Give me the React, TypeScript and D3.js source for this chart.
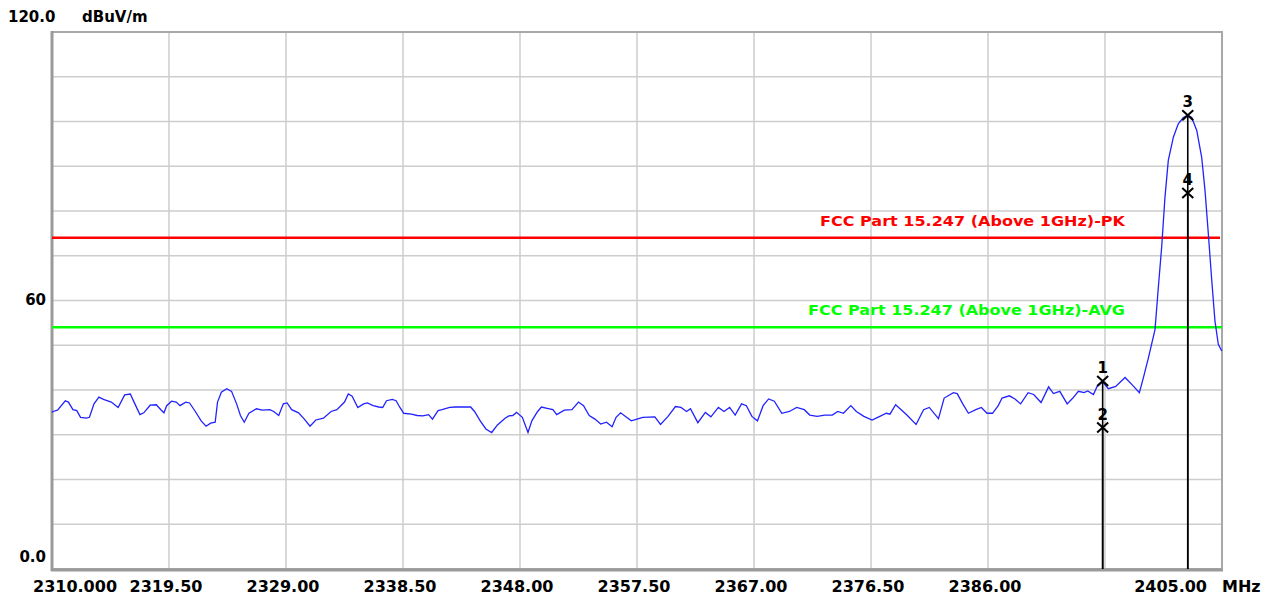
import React from 'react'
import * as d3 from 'd3'

// spectrum sweep (MHz, dBuV/m)
const noiseLow: [number, number][] = [
  [2310.0, 35.0], [2310.09, 35.2], [2310.45, 35.5], [2311.08, 37.6], [2311.33, 37.3], [2311.70, 35.6], [2312.01, 35.4],
  [2312.32, 33.9], [2312.79, 33.7], [2313.04, 33.9], [2313.41, 36.9], [2313.81, 38.4], [2314.18, 37.9],
  [2314.81, 37.3], [2315.37, 36.1], [2315.90, 38.9], [2316.36, 39.1], [2316.73, 36.9], [2317.14, 34.5],
  [2317.45, 34.9], [2317.97, 36.6], [2318.47, 36.7], [2318.84, 35.6], [2319.09, 34.9], [2319.31, 36.5],
  [2319.71, 37.5], [2320.09, 37.3], [2320.39, 36.5], [2320.86, 37.3], [2321.17, 37.1], [2321.64, 35.2],
  [2322.11, 33.1], [2322.51, 31.9], [2322.88, 32.6], [2323.25, 32.8], [2323.44, 37.3], [2323.75, 39.5],
  [2324.19, 40.3], [2324.58, 39.7], [2324.99, 36.9], [2325.30, 34.3], [2325.61, 32.8], [2325.99, 34.8],
  [2326.60, 35.8], [2327.07, 35.5], [2327.69, 35.6], [2328.00, 35.2], [2328.41, 34.3], [2328.78, 36.9],
  [2329.09, 37.1], [2329.46, 35.6], [2330.02, 34.9], [2330.49, 33.5], [2330.95, 31.9], [2331.42, 33.3],
  [2332.04, 33.7], [2332.66, 35.2], [2333.13, 35.6], [2333.75, 37.3], [2334.06, 39.1], [2334.37, 38.6],
  [2334.83, 36.1], [2335.30, 36.9], [2335.61, 37.1], [2336.07, 36.5], [2336.54, 36.2], [2336.85, 36.1],
  [2337.16, 37.6], [2337.63, 37.9], [2337.94, 37.6], [2338.25, 36.1], [2338.56, 34.8], [2339.18, 34.6],
  [2339.65, 34.3], [2340.11, 34.2], [2340.58, 34.5], [2340.89, 33.5], [2341.35, 35.4], [2341.67, 35.6],
  [2342.29, 36.1], [2342.76, 36.2], [2343.37, 36.2], [2343.99, 36.2], [2344.31, 35.2], [2344.77, 33.1],
  [2345.23, 31.3], [2345.70, 30.5], [2346.17, 32.2], [2346.79, 33.7], [2347.10, 34.2], [2347.41, 34.3],
  [2347.72, 35.0], [2348.19, 33.9], [2348.65, 30.5], [2348.96, 33.1], [2349.43, 35.2], [2349.74, 36.2],
  [2350.20, 35.9], [2350.67, 35.6], [2350.98, 34.5], [2351.60, 35.5], [2352.22, 35.6], [2352.75, 37.3],
  [2353.16, 36.5], [2353.62, 34.3], [2354.09, 33.5], [2354.55, 32.4], [2355.02, 32.8], [2355.48, 31.8],
  [2355.80, 33.9], [2356.17, 34.9], [2356.57, 34.1], [2357.04, 33.1], [2357.50, 33.5], [2357.97, 33.9],
]

const noiseHigh: [number, number][] = [
  [2358.95, 34.0], [2359.41, 32.3], [2360.02, 34.1], [2360.62, 36.3], [2361.07, 36.1], [2361.53, 35.2],
  [2361.84, 35.8], [2362.44, 32.7], [2363.05, 35.0], [2363.50, 34.0], [2364.11, 36.1], [2364.56, 35.2],
  [2365.02, 36.1], [2365.47, 34.4], [2365.99, 36.9], [2366.38, 36.5], [2366.83, 34.1], [2367.28, 33.1],
  [2367.74, 36.5], [2368.19, 38.0], [2368.65, 37.5], [2369.26, 34.8], [2369.87, 35.2], [2370.47, 36.1],
  [2371.08, 35.6], [2371.53, 34.4], [2372.13, 34.1], [2372.74, 34.4], [2373.35, 34.4], [2373.80, 35.2],
  [2374.26, 34.8], [2374.86, 36.5], [2375.31, 35.2], [2375.92, 34.1], [2376.59, 33.3], [2377.13, 34.0],
  [2377.74, 34.8], [2378.04, 34.6], [2378.50, 36.7], [2378.95, 35.6], [2379.41, 34.4], [2380.16, 32.3],
  [2380.77, 35.6], [2381.23, 36.1], [2381.98, 33.6], [2382.44, 38.2], [2383.19, 39.4], [2383.50, 39.2],
  [2383.95, 36.9], [2384.41, 34.8], [2385.01, 35.6], [2385.46, 36.1], [2385.92, 34.8], [2386.37, 34.8],
  [2386.83, 36.5], [2387.14, 38.2], [2387.74, 38.7], [2388.19, 38.0], [2388.65, 36.9], [2389.26, 39.4],
  [2389.71, 39.0], [2390.31, 37.2], [2390.92, 40.7], [2391.31, 39.2], [2391.83, 39.7], [2392.43, 36.9],
  [2392.89, 38.2], [2393.34, 39.7], [2393.80, 39.4], [2394.10, 39.8], [2394.56, 39.0], [2394.86, 40.8],
  [2395.31, 41.8], [2395.77, 40.3], [2396.37, 40.8], [2397.13, 42.8], [2397.73, 41.1], [2398.29, 39.4],
]

const carrier: [number, number][] = [
  [2398.64, 43.0], [2399.01, 47.0], [2399.56, 53.5], [2399.83, 62.9], [2400.10, 71.9], [2400.37, 83.1],
  [2400.64, 91.3], [2401.05, 96.5], [2401.45, 99.5], [2401.86, 100.9], [2402.22, 101.4], [2402.54, 100.9],
  [2402.95, 98.0], [2403.35, 92.0], [2403.62, 84.6], [2403.89, 74.9], [2404.17, 64.4], [2404.43, 55.4],
  [2404.70, 50.2], [2404.98, 48.7],
]

const markerNo = ['1', '2', '3', '4']
const markerFreq = [2395.31, 2395.31, 2402.22, 2402.22]
const markerLevel = [42.0, 31.6, 101.4, 84.0]

const peakLimit = 74
const avgLimit = 54
const peakLabel = 'FCC Part 15.247 (Above 1GHz)-PK'
const avgLabel = 'FCC Part 15.247 (Above 1GHz)-AVG'

const xTicks = d3.range(0, 11).map(i => 2310 + i * 9.5)
const xTickLabels = ['2310.000', '2319.50', '2329.00', '2338.50', '2348.00', '2357.50', '2367.00', '2376.50', '2386.00', '', '2405.00']
const yTicks = d3.range(0, 121, 10)

const W = 1271, H = 597
const font = '"DejaVu Sans", Verdana, sans-serif'

export default function App() {
  const x = d3.scaleLinear().domain([2310, 2405]).range([52, 1222])
  const y = d3.scaleLinear().domain([0, 120]).range([569, 32])

  const trace = [...noiseLow, ...noiseHigh, ...carrier]
  const line = d3.line<[number, number]>().x(d => x(d[0])).y(d => y(d[1]))

  return (
    <div style={{position: 'fixed', left: 0, top: 0}}>
      <svg width={W} height={H} style={{display: 'block', background: '#fff'}}>
        {/* grid */}
        <g stroke="#cdcdcd" strokeWidth={1.5}>
          {xTicks.slice(1, -1).map(t => (
            <line key={'gx' + t} x1={x(t)} x2={x(t)} y1={y(120)} y2={y(0)} />
          ))}
          {yTicks.slice(1, -1).map(t => (
            <line key={'gy' + t} x1={x(2310)} x2={x(2405)} y1={y(t)} y2={y(t)} />
          ))}
        </g>

        {/* frame */}
        <rect x={x(2310)} y={y(120)} width={x(2405) - x(2310)} height={y(0) - y(120)}
              fill="none" stroke="#a8a8a8" strokeWidth={2} />
        <line x1={x(2310)} x2={x(2310)} y1={y(120) - 1} y2={y(0) + 2} stroke="#9a9a9a" strokeWidth={3} />
        <line x1={x(2310) - 1} x2={x(2405) + 1} y1={y(0) + 1} y2={y(0) + 1} stroke="#9a9a9a" strokeWidth={3} />

        {/* limit lines */}
        <line x1={x(2310)} x2={x(2405) - 2} y1={y(peakLimit)} y2={y(peakLimit)} stroke="#ff0000" strokeWidth={2.5} />
        <line x1={x(2310)} x2={x(2405)} y1={y(avgLimit)} y2={y(avgLimit)} stroke="#00ff00" strokeWidth={2.5} />
        <text x={1125} y={y(peakLimit) - 12} textAnchor="end" fill="#ff0000" fontFamily={font} fontWeight="bold"
              fontSize={14} textLength={305} lengthAdjust="spacingAndGlyphs">{peakLabel}</text>
        <text x={1125} y={y(avgLimit) - 12} textAnchor="end" fill="#00ff00" fontFamily={font} fontWeight="bold"
              fontSize={14} textLength={317} lengthAdjust="spacingAndGlyphs">{avgLabel}</text>

        {/* trace */}
        <path d={line(trace) || ''} fill="none" stroke="#2222ff" strokeWidth={1.3} />

        {/* markers */}
        {markerNo.map((m, i) => {
          const cx = x(markerFreq[i])
          const cy = y(markerLevel[i])
          return (
            <g key={'m' + m}>
              <line x1={cx} x2={cx} y1={cy} y2={y(0)} stroke="#000" strokeWidth={1.6} />
              <path d={`M${cx - 5.5},${cy - 5}L${cx + 5.5},${cy + 5}M${cx + 5.5},${cy - 5}L${cx - 5.5},${cy + 5}`}
                    stroke="#000" strokeWidth={2} fill="none" />
              <text x={cx} y={cy - 8} textAnchor="middle" fontFamily={font} fontWeight="bold" fontSize={15}>{m}</text>
            </g>
          )
        })}

        {/* y labels */}
        <g fontFamily={font} fontWeight="bold" fontSize={15} fill="#000">
          <text x={8} y={22}>120.0</text>
          <text x={82} y={22}>dBuV/m</text>
          <text x={46} y={y(60) + 4} textAnchor="end">60</text>
          <text x={46} y={562} textAnchor="end">0.0</text>
        </g>

        {/* x labels */}
        <g fontFamily={font} fontWeight="bold" fontSize={16} fill="#000">
          {xTicks.map((t, i) => {
            const lab = xTickLabels[i]
            if (!lab) return null
            if (i === 0) return <text key={'xl' + i} x={x(t) - 19} y={592}>{lab}</text>
            if (i === xTicks.length - 1) return <text key={'xl' + i} x={x(t) - 15} y={592} textAnchor="end">{lab}</text>
            return <text key={'xl' + i} x={x(t) - 3} y={592} textAnchor="middle">{lab}</text>
          })}
          <text x={1222} y={592}>MHz</text>
        </g>
      </svg>
    </div>
  )
}
